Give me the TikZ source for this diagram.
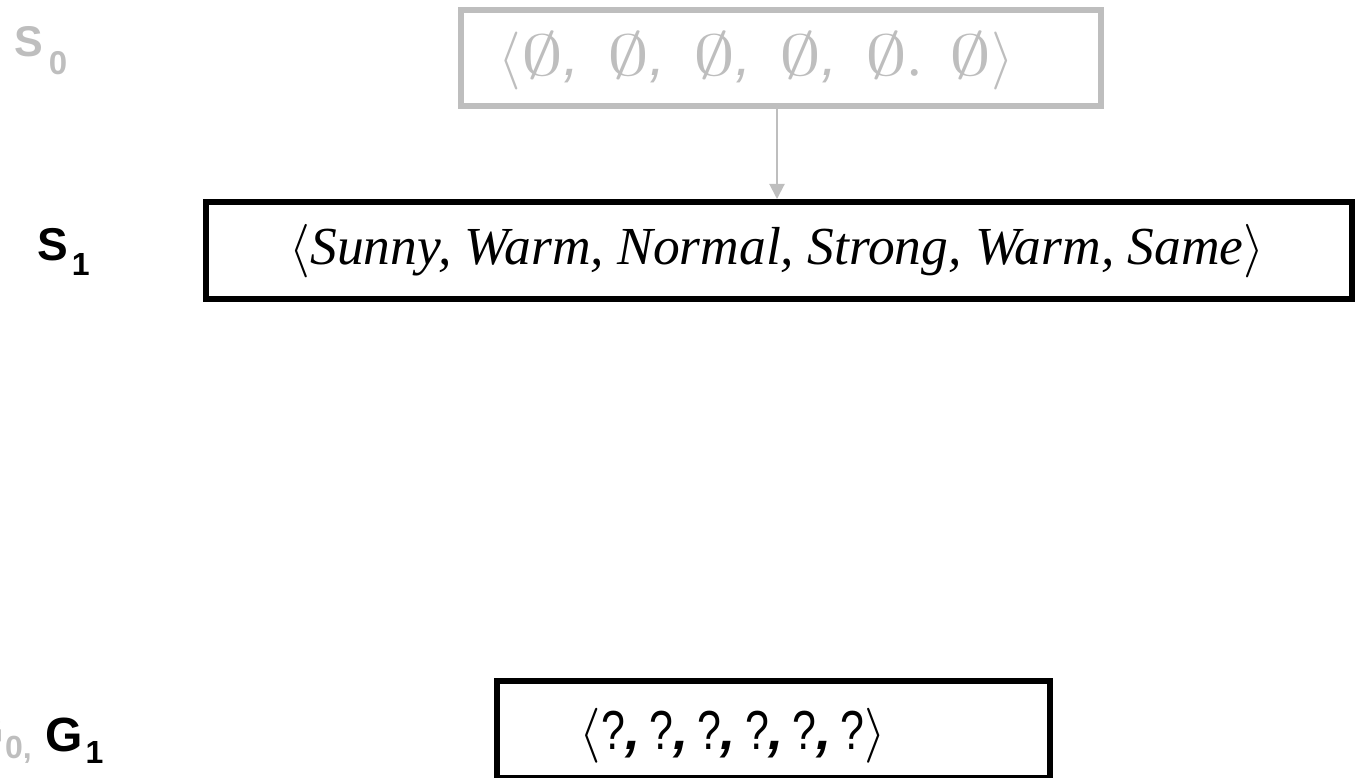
\documentclass[tikz,border=0pt]{standalone}
\usepackage{fontspec}
\usepackage{graphicx}
\DeclareFontShape{OMS}{cmsy}{m}{n}{<->cmsy10}{}
\DeclareFontShape{OMX}{cmex}{m}{n}{<->cmex10}{}
\DeclareFontShape{OML}{cmm}{m}{it}{<->cmmi10}{}
\DeclareFontShape{OT1}{cmr}{m}{n}{<->cmr10}{}
\setmainfont{Liberation Serif}
\newfontfamily\labfont{Liberation Sans}
\usetikzlibrary{arrows.meta}
\definecolor{lgray}{RGB}{190,190,190}
\newcommand{\emp}{\scalebox{1.45}[1]{$\emptyset$}}
\newcommand{\ecm}{{\labfont\itshape ,}\hspace{0.48em}}
\newcommand{\qm}{\scalebox{0.78}[1]{?}}
\newcommand{\cma}{{\itshape\bfseries ,}\hspace{0.16em}}
\begin{document}
\begin{tikzpicture}[x=1pt,y=1pt,
  grbox/.style={draw=lgray, line width=6pt, inner sep=0pt},
  bkbox/.style={draw=black, line width=6pt, inner sep=0pt},
  lbl/.style={font=\labfont\bfseries, inner sep=0pt},
  txt/.style={inner sep=0pt}]
\useasboundingbox (0,0) rectangle (1357,-778);
% boxes
\node[grbox, minimum width=640pt, minimum height=96pt] (s0box) at (781,-58) {};
\node[bkbox, minimum width=1146pt, minimum height=97pt] (s1box) at (779,-250.5) {};
\node[bkbox, minimum width=553pt, minimum height=97pt] (gbox) at (773.5,-729.5) {};
% box texts
\node[txt, text=lgray] (s0txt) at (756.5,-61.5) {\fontsize{58}{58}\selectfont $\langle$\emp\ecm\emp\ecm\emp\ecm\emp\ecm\emp.\hspace{0.48em}\emp$\rangle$};
\node[txt] (s1txt) at (777,-251) {\fontsize{53.5}{53.5}\selectfont\itshape $\big\langle$Sunny, Warm, Normal, Strong, Warm, Same$\big\rangle$};
\node[txt] (gtxt) at (733,-735.5) {\fontsize{55}{55}\selectfont $\langle$\labfont\qm\cma\qm\cma\qm\cma\qm\cma\qm\cma\qm$\rangle$};
% connector
\draw[lgray, line width=2pt, -{Triangle[length=15pt,width=15pt]}] ([xshift=-4pt]s0box.south) -- ([xshift=-2pt]s1box.north);
% labels
\node[lbl, text=lgray, anchor=base west] (s0) at (14,-57) {\fontsize{43}{43}\selectfont S\kern6pt\raisebox{-18pt}{\fontsize{33}{33}\selectfont 0}};
\node[lbl, anchor=base west] (s1) at (37,-260) {\fontsize{46}{46}\selectfont S\kern4pt\raisebox{-15pt}{\fontsize{32}{32}\selectfont 1}};
\node[lbl, anchor=base west] (g1) at (45,-751) {\fontsize{48}{48}\selectfont G\kern3pt\raisebox{-12pt}{\fontsize{32}{32}\selectfont 1}};
\node[lbl, text=lgray, anchor=base east] (g0) at (32,-746) {\fontsize{46}{46}\selectfont G\kern1pt\raisebox{-12pt}{\fontsize{32}{32}\selectfont 0,}};
\end{tikzpicture}
\end{document}
